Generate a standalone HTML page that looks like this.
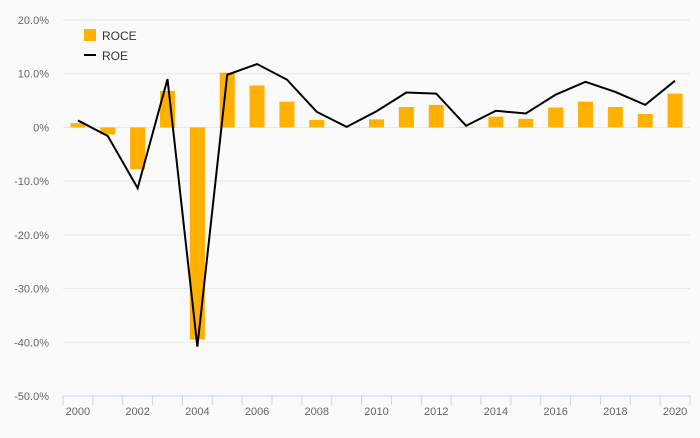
<!DOCTYPE html>
<html><head><meta charset="utf-8"><style>
body{margin:0;background:#fafafa;font-family:"Liberation Sans",sans-serif}
svg text{font-family:"Liberation Sans",sans-serif}
</style></head><body>
<svg width="700" height="433">
<rect width="700" height="433" fill="#fafafa"/>
<g id="grid"></g><g id="bars"></g><g id="line"></g><g id="axis"></g>
<g>
<rect x="84" y="29" width="12" height="12" fill="#ffb000"/>
<text x="102" y="40" font-size="12" fill="#333">ROCE</text>
<line x1="84" y1="55" x2="96" y2="55" stroke="#000" stroke-width="2"/>
<text x="102" y="60" font-size="12" fill="#333">ROE</text>
</g>
</svg>
<script>
const years=[2000,2001,2002,2003,2004,2005,2006,2007,2008,2009,2010,2011,2012,2013,2014,2015,2016,2017,2018,2019,2020];
const roce=[0.8,-1.3,-7.8,6.8,-39.5,10.2,7.8,4.8,1.4,0,1.5,3.8,4.2,0.1,2.0,1.6,3.7,4.8,3.8,2.5,6.3];
const roe=[1.3,-1.6,-11.3,9.0,-40.8,9.8,11.8,8.9,2.9,0.1,3.0,6.5,6.3,0.3,3.1,2.6,6.1,8.5,6.6,4.2,8.7];
const yTicks=[20,10,0,-10,-20,-30,-40,-50];
const yTickLabels=["20.0%","10.0%","0%","-10.0%","-20.0%","-30.0%","-40.0%","-50.0%"];
const NS="http://www.w3.org/2000/svg";
const x0=63,x1=690,yTop=20,yBot=396,vMax=20,vMin=-50;
const step=(x1-x0)/years.length;
const xc=i=>x0+step*(i+0.5);
const y=v=>yTop+(vMax-v)/(vMax-vMin)*(yBot-yTop);
function mk(t,a,p){const e=document.createElementNS(NS,t);for(const k in a)e.setAttribute(k,a[k]);p.appendChild(e);return e;}
const g=document.getElementById('grid'),b=document.getElementById('bars'),l=document.getElementById('line'),ax=document.getElementById('axis');
yTicks.forEach((v,i)=>{
 if(v!==vMin){const ln=mk('line',{x1:x0,x2:x1,y1:y(v),y2:y(v),stroke:'#e6e6e6','stroke-width':1},g);
 
 }
 const t=mk('text',{x:49,y:y(v)+4,'text-anchor':'end','font-size':11,fill:'#666'},g);
 t.textContent=yTickLabels[i];
 
 
});
roce.forEach((v,i)=>{
 const r=mk('rect',{x:xc(i)-7.5,y:Math.min(y(v),y(0)),width:15,height:Math.abs(y(v)-y(0)),fill:'#ffb000'},b);
 
 
});
const pts=roe.map((v,i)=>xc(i)+','+y(v)).join(' ');
const pl=mk('polyline',{points:pts,fill:'none',stroke:'#000','stroke-width':2,'stroke-linejoin':'miter'},l);


const al=mk('line',{x1:x0,x2:x1,y1:yBot,y2:yBot,stroke:'#c5d3ea','stroke-width':1},ax);


for(let i=0;i<=years.length;i++){
 const tk=mk('line',{x1:x0+step*i,x2:x0+step*i,y1:yBot,y2:yBot+9,stroke:'#c5d3ea','stroke-width':1},ax);
 
 
}
years.forEach((yr,i)=>{
 if(i%2)return;
 const t=mk('text',{x:xc(i),y:yBot+19,'text-anchor':'middle','font-size':11,fill:'#666'},ax);
 t.textContent=yr;
 
 
});
</script>
</body></html>
